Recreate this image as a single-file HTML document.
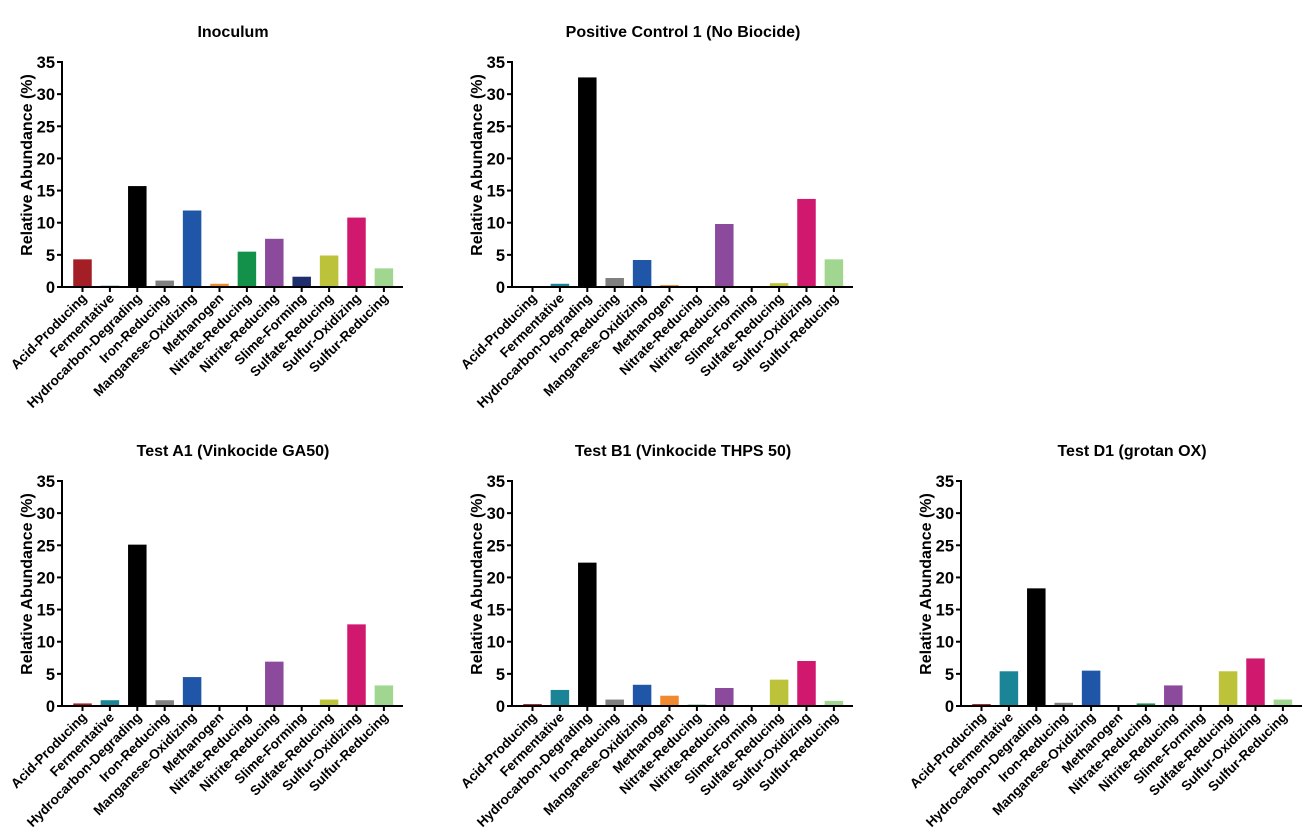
<!DOCTYPE html>
<html><head><meta charset="utf-8"><style>
html,body{margin:0;padding:0;background:#fff;}
svg{display:block;font-family:"Liberation Sans",Arial,sans-serif;}
</style></head><body>
<svg id="c" width="1304" height="839"></svg>
<script>
const categories=["Acid-Producing","Fermentative","Hydrocarbon-Degrading","Iron-Reducing","Manganese-Oxidizing","Methanogen","Nitrate-Reducing","Nitrite-Reducing","Slime-Forming","Sulfate-Reducing","Sulfur-Oxidizing","Sulfur-Reducing"];
const colors=["#a31f25","#1b8496","#000000","#808080","#1f56a8","#f08a30","#13914a","#8b4a9c","#1f2f6e","#bcc23a","#d0196e","#a0d68f"];
const yTicks=[0,5,10,15,20,25,30,35];
const titles=["Inoculum","Positive Control 1 (No Biocide)","Test A1 (Vinkocide GA50)","Test B1 (Vinkocide THPS 50)","Test D1 (grotan OX)"];
const inoculum=[4.3,0.2,15.7,1.0,11.9,0.5,5.5,7.5,1.6,4.9,10.8,2.9];
const positive1=[0,0.5,32.6,1.4,4.2,0.3,0,9.8,0,0.6,13.7,4.3];
const testA1=[0.4,0.9,25.1,0.9,4.5,0,0.1,6.9,0,1.0,12.7,3.2];
const testB1=[0.3,2.5,22.3,1.0,3.3,1.6,0.2,2.8,0,4.1,7.0,0.8];
const testD1=[0.3,5.4,18.3,0.5,5.5,0,0.4,3.2,0,5.4,7.4,1.0];
const series=[inoculum,positive1,testA1,testB1,testD1];
const origins=[[62,287],[512,287],[62,706],[512,706],[961,706]];
const NS="http://www.w3.org/2000/svg";
const svg=document.getElementById('c');
function mk(tag,attrs,parent){const e=document.createElementNS(NS,tag);for(const k in attrs)e.setAttribute(k,attrs[k]);(parent||svg).appendChild(e);return e;}
series.forEach((vals,p)=>{
  const [ox,oy]=origins[p];
  const H=225, pitch=27.4, bw=18.5, axisLen=341;
  const y=v=>oy-v/35*H;
  const x=i=>ox+20.5+i*pitch;
  const g=mk('g',{});
  
  
  const t=mk('text',{x:ox+171,y:oy-250,'text-anchor':'middle','font-size':16,'font-weight':'bold',fill:'#000'},g);
  t.textContent=titles[p];
  
  
  const yt=mk('text',{transform:`translate(${ox-30},${oy-122}) rotate(-90)`,'text-anchor':'middle','font-size':16,'font-weight':'bold'},g);
  yt.textContent="Relative Abundance (%)";
  
  
  vals.forEach((v,i)=>{
    const r=mk('rect',{x:x(i)-bw/2,y:y(v),width:bw,height:Math.max(0,oy-y(v)),fill:colors[i]},g);
    
    
  });
  mk('line',{x1:ox,y1:oy-H-1,x2:ox,y2:oy+1,stroke:'#000','stroke-width':2},g);
  mk('line',{x1:ox-1,y1:oy,x2:ox+axisLen,y2:oy,stroke:'#000','stroke-width':2},g);
  yTicks.forEach(v=>{
    mk('line',{x1:ox-5,y1:y(v),x2:ox,y2:y(v),stroke:'#000','stroke-width':2},g);
    const tl=mk('text',{x:ox-7,y:y(v)+6,'text-anchor':'end','font-size':16.5,'font-weight':'bold'},g);
    tl.textContent=v;
    
    
  });
  categories.forEach((c,i)=>{
    mk('line',{x1:x(i),y1:oy,x2:x(i),y2:oy+5,stroke:'#000','stroke-width':2},g);
    const cl=mk('text',{transform:`translate(${x(i)+5},${oy+12}) rotate(-45)`,'text-anchor':'end','font-size':13.5,'font-weight':'bold'},g);
    cl.textContent=c;
    
    
  });
});
</script>
</body></html>
